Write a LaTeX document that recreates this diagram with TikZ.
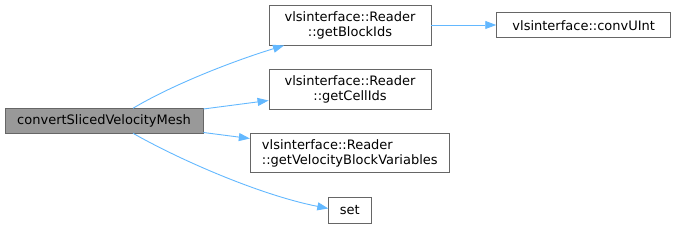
\documentclass[tikz,border=0pt]{standalone}
\usepackage{fontspec}
\setmainfont{DejaVu Sans}
\usetikzlibrary{arrows.meta}
\definecolor{edgec}{HTML}{63B8FF}
\definecolor{boxc}{HTML}{666666}
\definecolor{mainfill}{HTML}{999999}
\begin{document}
\begin{tikzpicture}[x=1pt,y=-1pt,
  box/.style={draw=boxc, line width=0.9pt, fill=white, inner sep=0pt, align=center,
    font=\fontsize{13}{15}\selectfont},
  mainbox/.style={box, fill=mainfill},
  call/.style={draw=edgec, line width=0.9pt, -{Triangle[length=11pt,width=8pt]}, shorten >=0pt}]
\useasboundingbox (0,0) rectangle (676,229);
\node[mainbox, minimum width=198pt, minimum height=25pt] (m) at (104,120.8) {convertSlicedVelocityMesh};
\node[box, minimum width=162pt, minimum height=40pt] (b) at (350,25) {vlsinterface::Reader\\::getBlockIds};
\node[box, minimum width=162pt, minimum height=40pt] (c) at (350,89) {vlsinterface::Reader\\::getCellIds};
\node[box, align=left, minimum width=199pt, minimum height=39.5pt] (v) at (349.8,153) {vlsinterface::Reader\\::getVelocityBlockVariables};
\node[box, minimum width=42.7pt, minimum height=25.5pt] (s) at (349.7,210.3) {set};
\node[box, minimum width=174pt, minimum height=25pt] (u) at (583.7,25.2) {vlsinterface::convUInt};
\coordinate (m1) at (133,108.3);
\coordinate (m4) at (133,133.3);
\coordinate (b1) at (284,45.5);
\coordinate (s1) at (328.3,208.5);
\draw[call] (m1) .. controls (170,86) and (230,62) .. (b1);
\draw[call] (m.east |- 0,109) -- (c.west |- 0,100.5);
\draw[call] (m.east |- 0,132.5) -- (v.west |- 0,138.5);
\draw[call] (m4) .. controls (180,160) and (260,195) .. (s1);
\draw[call] (b.east |- 0,25) -- (u.west |- 0,25);
\end{tikzpicture}
\end{document}
